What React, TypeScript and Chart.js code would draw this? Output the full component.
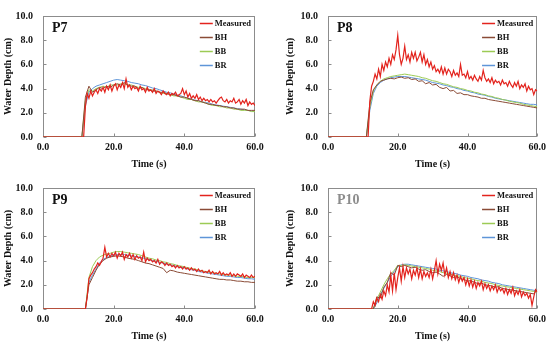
import React, { useEffect, useRef } from 'react';
import { Chart, registerables } from 'chart.js';
Chart.register(...registerables);

const FONT = '"Liberation Serif", "Times New Roman", serif';
const SERIES_NAMES = ['Measured', 'BH', 'BB', 'BR'];
const SERIES_COLORS = ['#e3231d', '#8a4b36', '#9ccb55', '#5e95d8'];
const SERIES_WIDTHS = [1.2, 1, 1, 1];
const X_TICKS = [0, 20, 40, 60];
const Y_TICKS = [0, 2, 4, 6, 8, 10];
const X_TITLE = 'Time (s)';
const Y_TITLE = 'Water Depth (cm)';

// Measured: t = 11.0, 11.5, ... 60.0  (before 11 s the depth is 0)
const MEAS_START = 11;
const MEAS_STEP = 0.5;
// Models: t = 11, 12, ... 60
const MODEL_START = 11;
const MODEL_STEP = 1;

const P7_MEASURED = [
  0, 0, 2.5, 3.6, 3.2, 3.8, 3.4, 3.7, 3.9, 3.6,
  4.0, 3.8, 4.1, 3.7, 4.2, 3.9, 4.3, 3.8, 4.2, 4.4,
  3.9, 4.3, 4.1, 4.5, 4.0, 4.8, 4.1, 4.3, 3.9, 4.2,
  4.0, 4.1, 3.8, 4.2, 3.9, 4.0, 3.7, 4.1, 3.8, 3.9,
  3.7, 4.0, 3.6, 3.8, 3.7, 3.5, 3.8, 3.6, 3.5, 3.7,
  3.4, 3.6, 3.5, 3.7, 3.4, 3.5, 3.6, 4.0, 3.5, 3.8,
  3.3, 3.6, 3.2, 3.4, 3.2, 3.5, 3.1, 3.3, 3.0, 3.2,
  3.0, 3.1, 2.9, 3.1, 2.9, 3.0, 2.8, 3.0, 3.2, 3.3,
  3.0, 2.9, 3.1, 2.8, 3.0, 2.9, 3.2, 2.8, 2.9, 3.1,
  2.7, 3.0, 2.8, 3.1, 2.6, 2.9, 2.7, 2.8, 2.6,
];
const P7_BH = [
  0, 3.3, 4.2, 3.7, 3.9, 4.1, 4.0, 4.2, 4.1, 4.3,
  4.4, 4.3, 4.5, 4.3, 4.2, 4.2, 4.0, 4.1, 3.9, 3.9,
  3.8, 3.8, 3.7, 3.7, 3.6, 3.5, 3.5, 3.4, 3.3, 3.3,
  3.2, 3.1, 3.0, 3.0, 2.9, 2.8, 2.7, 2.7, 2.6, 2.6,
  2.5, 2.5, 2.4, 2.4, 2.3, 2.3, 2.3, 2.2, 2.2, 2.2,
];
const P7_BB = [
  0, 3.0, 3.9, 3.8, 4.0, 4.1, 4.2, 4.1, 4.3, 4.3,
  4.3, 4.4, 4.4, 4.3, 4.3, 4.2, 4.1, 4.1, 4.0, 3.9,
  3.9, 3.8, 3.7, 3.6, 3.6, 3.5, 3.4, 3.4, 3.3, 3.2,
  3.1, 3.1, 3.0, 2.9, 2.9, 2.8, 2.7, 2.6, 2.6, 2.5,
  2.5, 2.4, 2.4, 2.3, 2.3, 2.2, 2.2, 2.2, 2.1, 2.1,
];
const P7_BR = [
  0, 2.6, 3.7, 4.0, 4.2, 4.3, 4.4, 4.5, 4.6, 4.7,
  4.75, 4.7, 4.65, 4.6, 4.5, 4.45, 4.4, 4.3, 4.25, 4.15,
  4.05, 4.0, 3.9, 3.8, 3.7, 3.65, 3.55, 3.45, 3.4, 3.3,
  3.2, 3.15, 3.05, 3.0, 2.9, 2.85, 2.8, 2.7, 2.65, 2.6,
  2.55, 2.5, 2.45, 2.4, 2.35, 2.3, 2.25, 2.2, 2.15, 2.1,
];

const P8_MEASURED = [
  0, 0, 3.0, 4.2, 4.6, 5.2, 4.8, 5.6, 5.0, 6.0,
  5.5, 6.2, 5.8, 6.5, 6.0, 6.8, 6.4, 7.2, 8.4, 6.8,
  6.0, 6.5, 7.5, 6.4, 6.8, 6.2, 7.0, 6.5, 7.0, 6.3,
  6.6, 7.0, 6.2, 6.8, 6.0, 6.4, 5.8, 6.2, 5.6, 5.9,
  5.4, 5.6, 5.3, 5.8, 5.2, 5.7, 5.2, 5.6, 5.4, 5.0,
  5.5, 5.1, 5.3, 5.0, 6.0, 5.1, 5.2, 4.9, 5.4, 4.8,
  5.0, 4.7, 5.1, 4.8, 4.6, 5.0, 4.7, 5.5, 4.9, 4.6,
  4.8, 4.5, 4.9, 4.4, 4.7, 4.5, 4.6, 4.3, 4.7, 4.4,
  4.5, 4.2, 4.6, 4.3, 4.1, 4.5, 4.2, 4.6, 4.0, 4.3,
  4.1, 4.4, 3.8, 4.2, 3.9, 4.0, 3.5, 3.9, 3.8,
];
const P8_BH = [
  0, 2.8, 3.9, 4.3, 4.6, 4.7, 4.8, 4.85, 4.8, 4.9,
  4.95, 4.85, 4.9, 4.75, 4.8, 4.6, 4.65, 4.4, 4.5, 4.3,
  4.35, 4.1, 4.0, 4.1, 3.8, 3.85, 3.6, 3.65, 3.5, 3.5,
  3.4, 3.35, 3.3, 3.2, 3.2, 3.1, 3.05, 3.0, 2.95, 2.9,
  2.85, 2.8, 2.75, 2.7, 2.65, 2.6, 2.55, 2.5, 2.45, 2.4,
];
const P8_BB = [
  0, 2.5, 3.8, 4.3, 4.6, 4.8, 4.9, 5.0, 5.05, 5.1,
  5.15, 5.2, 5.15, 5.1, 5.05, 5.0, 4.9, 4.85, 4.75, 4.65,
  4.6, 4.5, 4.4, 4.35, 4.25, 4.15, 4.1, 4.0, 3.95, 3.85,
  3.8, 3.7, 3.65, 3.55, 3.5, 3.4, 3.35, 3.25, 3.2, 3.1,
  3.05, 2.95, 2.9, 2.85, 2.8, 2.7, 2.65, 2.6, 2.55, 2.5,
];
const P8_BR = [
  0, 2.2, 3.6, 4.2, 4.5, 4.7, 4.8, 4.9, 4.95, 5.0,
  5.0, 5.0, 4.95, 4.9, 4.85, 4.8, 4.75, 4.7, 4.6, 4.5,
  4.45, 4.4, 4.3, 4.25, 4.15, 4.1, 4.0, 3.95, 3.85, 3.8,
  3.7, 3.65, 3.55, 3.5, 3.45, 3.35, 3.3, 3.2, 3.15, 3.1,
  3.05, 3.0, 2.95, 2.9, 2.85, 2.8, 2.75, 2.7, 2.7, 2.65,
];

const P9_MEASURED = [
  0, 0, 0, 1.0, 2.5, 2.8, 3.0, 3.3, 3.5, 3.8,
  3.6, 3.9, 4.2, 5.1, 4.3, 4.6, 4.3, 4.6, 4.4, 4.7,
  4.2, 4.6, 4.4, 4.7, 4.1, 4.5, 4.3, 4.6, 4.2, 4.5,
  4.1, 4.4, 4.2, 4.3, 4.0, 4.7, 3.9, 4.2, 4.0, 4.1,
  3.9, 4.0, 3.8, 4.1, 3.7, 3.9, 3.8, 3.6, 3.8, 3.6,
  3.7, 3.5, 3.6, 3.4, 3.6, 3.4, 3.5, 3.3, 3.5, 3.3,
  3.4, 3.2, 3.4, 3.2, 3.3, 3.1, 3.3, 3.1, 3.2, 3.0,
  3.1, 3.0, 3.2, 2.9, 3.1, 2.9, 3.0, 2.9, 3.1, 2.8,
  3.0, 2.8, 2.9, 2.8, 3.0, 2.7, 2.9, 2.7, 2.9, 2.8,
  2.7, 2.9, 2.6, 2.8, 2.7, 2.6, 2.8, 2.6, 2.7,
];
const P9_BH = [
  0, 0, 2.0, 2.6, 3.2, 3.7, 4.0, 4.2, 4.3, 4.35,
  4.4, 4.35, 4.3, 4.2, 4.15, 4.1, 4.0, 3.9, 3.8, 3.75,
  3.65, 3.55, 3.45, 3.35, 3.0, 3.2, 3.15, 3.05, 3.0, 2.95,
  2.9, 2.85, 2.8, 2.75, 2.7, 2.65, 2.6, 2.55, 2.5, 2.45,
  2.45, 2.4, 2.4, 2.35, 2.3, 2.3, 2.25, 2.25, 2.2, 2.2,
];
const P9_BB = [
  0, 0, 2.6, 3.5, 4.0, 4.3, 4.45, 4.55, 4.6, 4.7,
  4.75, 4.75, 4.7, 4.65, 4.6, 4.55, 4.5, 4.4, 4.3, 4.2,
  4.15, 4.05, 4.0, 3.9, 3.85, 3.75, 3.7, 3.6, 3.55, 3.5,
  3.4, 3.35, 3.3, 3.2, 3.15, 3.1, 3.05, 3.0, 2.95, 2.9,
  2.85, 2.8, 2.8, 2.75, 2.7, 2.7, 2.65, 2.6, 2.6, 2.6,
];
const P9_BR = [
  0, 0, 2.2, 2.8, 3.3, 3.8, 4.1, 4.25, 4.35, 4.45,
  4.5, 4.5, 4.5, 4.45, 4.4, 4.35, 4.3, 4.25, 4.15, 4.1,
  4.0, 3.95, 3.85, 3.8, 3.7, 3.65, 3.6, 3.5, 3.45, 3.4,
  3.3, 3.25, 3.2, 3.1, 3.05, 3.0, 2.95, 2.9, 2.85, 2.8,
  2.75, 2.7, 2.7, 2.65, 2.6, 2.6, 2.55, 2.5, 2.5, 2.45,
];

const P10_MEASURED = [
  0, 0, 0, 0, 0.6, 0.3, 0.9, 0.6, 1.2, 0.8,
  1.5, 1.1, 2.0, 1.4, 2.8, 1.5, 3.0, 1.6, 2.6, 3.4,
  2.3, 3.5, 2.6, 3.4, 2.9, 3.3, 2.5, 3.2, 2.8, 3.4,
  2.6, 3.3, 2.5, 3.1, 2.7, 3.0, 2.6, 3.3, 2.5, 3.2,
  4.0, 2.9, 3.7, 3.2, 3.8, 2.8, 3.4, 2.6, 3.1, 2.5,
  3.0, 2.4, 2.8, 2.2, 2.7, 2.3, 2.6, 2.0, 2.5, 1.9,
  2.4, 1.8, 2.3, 1.7, 2.2, 1.9, 2.3, 1.6, 2.1, 1.7,
  2.0, 1.5, 1.9, 1.6, 2.0, 1.4, 1.8, 1.5, 1.7, 1.3,
  1.7, 1.2, 1.6, 1.3, 1.8, 1.1, 1.5, 1.2, 1.6, 1.0,
  1.4, 1.1, 1.3, 0.9, 1.2, 0.3, 1.0, 1.6, 1.4,
];
const P10_BH = [
  0, 0, 0, 1.0, 0.9, 1.8, 2.2, 3.0, 2.8, 3.6,
  3.5, 3.6, 3.5, 3.4, 3.45, 3.3, 3.2, 3.25, 3.1, 3.0,
  3.05, 2.9, 2.7, 2.85, 2.75, 2.6, 2.7, 2.5, 2.45, 2.3,
  2.35, 2.2, 2.1, 2.15, 2.0, 1.95, 1.9, 1.8, 1.85, 1.7,
  1.65, 1.6, 1.55, 1.5, 1.45, 1.4, 1.35, 1.3, 1.25, 1.6,
];
const P10_BB = [
  0, 0, 0, 0.8, 1.4, 2.0, 2.5, 2.9, 3.2, 3.6,
  3.6, 3.65, 3.6, 3.55, 3.5, 3.45, 3.4, 3.35, 3.3, 3.2,
  3.15, 3.1, 3.0, 2.95, 2.9, 2.8, 2.75, 2.7, 2.6, 2.55,
  2.5, 2.4, 2.35, 2.3, 2.2, 2.15, 2.1, 2.0, 1.95, 1.9,
  1.85, 1.8, 1.75, 1.7, 1.65, 1.6, 1.55, 1.5, 1.45, 1.4,
];
const P10_BR = [
  0, 0, 0, 0.5, 1.2, 1.7, 2.2, 2.7, 3.1, 3.5,
  3.65, 3.7, 3.7, 3.65, 3.6, 3.55, 3.5, 3.45, 3.4, 3.35,
  3.3, 3.2, 3.15, 3.1, 3.0, 2.95, 2.9, 2.8, 2.75, 2.7,
  2.6, 2.55, 2.5, 2.4, 2.35, 2.3, 2.2, 2.15, 2.1, 2.0,
  1.95, 1.9, 1.85, 1.8, 1.75, 1.7, 1.65, 1.6, 1.55, 1.5,
];

type Panel = {
  name: string;
  nameColor: string;
  left: number;
  top: number;
  w: number;
  h: number;
  axisW: number;
  padR: number;
  padT: number;
  xAxisH: number;
  yTitlePad: number;
  xTitlePad: number;
  series: number[][];
};

const PANELS: Panel[] = [
  { name: 'P7', nameColor: '#111', left: 0, top: 0, w: 275, h: 172, axisW: 43, padR: 20, padT: 7, xAxisH: 35, yTitlePad: 2, xTitlePad: 2, series: [P7_MEASURED, P7_BH, P7_BB, P7_BR] },
  { name: 'P8', nameColor: '#111', left: 275, top: 0, w: 275, h: 172, axisW: 53, padR: 10, padT: 6, xAxisH: 35, yTitlePad: 9, xTitlePad: 2, series: [P8_MEASURED, P8_BH, P8_BB, P8_BR] },
  { name: 'P9', nameColor: '#111', left: 0, top: 172, w: 275, h: 171, axisW: 43, padR: 20, padT: 7, xAxisH: 34, yTitlePad: 2, xTitlePad: 1, series: [P9_MEASURED, P9_BH, P9_BB, P9_BR] },
  { name: 'P10', nameColor: '#8c8c8c', left: 275, top: 172, w: 275, h: 171, axisW: 53, padR: 10, padT: 7, xAxisH: 34, yTitlePad: 9, xTitlePad: 1, series: [P10_MEASURED, P10_BH, P10_BB, P10_BR] },
];

function toPoints(values: number[], start: number, step: number) {
  const pts = [{ x: 0, y: 0 }];
  values.forEach((v, i) => pts.push({ x: start + i * step, y: v }));
  return pts;
}

const framePlugin = {
  id: 'framePlugin',
  beforeDatasetsDraw(chart: any) {
    const { ctx, chartArea: a, scales } = chart;
    ctx.save();
    ctx.strokeStyle = '#8c8c8c';
    ctx.lineWidth = 1;
    const l = Math.round(a.left) + 0.5;
    const t = Math.round(a.top) + 0.5;
    const r = Math.round(a.right) - 0.5;
    const b = Math.round(a.bottom) - 0.5;
    ctx.strokeRect(l, t, r - l, b - t);
    ctx.beginPath();
    for (const v of X_TICKS) {
      const px = Math.round(scales.x.getPixelForValue(v)) + 0.5;
      ctx.moveTo(px, b);
      ctx.lineTo(px, b - 3);
    }
    for (const v of Y_TICKS) {
      const py = Math.round(scales.y.getPixelForValue(v)) + 0.5;
      ctx.moveTo(l, py);
      ctx.lineTo(l + 3, py);
    }
    ctx.stroke();
    ctx.restore();
  },
  afterDraw(chart: any, _args: any, opts: any) {
    const { ctx, chartArea: a } = chart;
    ctx.save();
    ctx.font = `bold 14px ${FONT}`;
    ctx.fillStyle = opts.nameColor;
    ctx.textBaseline = 'middle';
    ctx.textAlign = 'left';
    ctx.fillText(opts.name, a.left + 9, a.top + 12.5);

    ctx.font = `bold 8.5px ${FONT}`;
    const labels: string[] = chart.data.datasets.map((d: any) => d.label);
    const maxW = Math.max(...labels.map((s) => ctx.measureText(s).width));
    const tx = a.right - 4 - maxW;
    chart.data.datasets.forEach((d: any, i: number) => {
      const yy = Math.round(a.top + 7 + 14 * i);
      ctx.strokeStyle = d.borderColor;
      ctx.lineWidth = 1.5;
      ctx.beginPath();
      ctx.moveTo(tx - 15, yy + 0.5);
      ctx.lineTo(tx - 2, yy + 0.5);
      ctx.stroke();
      ctx.fillStyle = '#111';
      ctx.fillText(d.label, tx, yy + 0.5);
    });
    ctx.restore();
  },
};

function PanelChart({ p }: { p: Panel }) {
  const ref = useRef<HTMLCanvasElement>(null);
  useEffect(() => {
    if (!ref.current) return;
    const tickFont = { family: FONT, size: 10, weight: 'bold' as const };
    const datasets = p.series.map((vals, i) => ({
      label: SERIES_NAMES[i],
      data: i === 0 ? toPoints(vals, MEAS_START, MEAS_STEP) : toPoints(vals, MODEL_START, MODEL_STEP),
      borderColor: SERIES_COLORS[i],
      backgroundColor: SERIES_COLORS[i],
      borderWidth: SERIES_WIDTHS[i],
      pointRadius: 0,
      tension: 0,
      fill: false,
    }));
    const chart = new Chart(ref.current, {
      type: 'line',
      data: { datasets },
      options: {
        responsive: false,
        animation: false,
        devicePixelRatio: 1,
        layout: { padding: { left: 0, right: p.padR, top: p.padT, bottom: 0 } },
        plugins: {
          legend: { display: false },
          tooltip: { enabled: false },
          framePlugin: { name: p.name, nameColor: p.nameColor },
        } as any,
        scales: {
          x: {
            type: 'linear',
            min: X_TICKS[0],
            max: X_TICKS[X_TICKS.length - 1],
            grid: { display: false, drawTicks: false },
            border: { display: false },
            afterBuildTicks: (s: any) => { s.ticks = X_TICKS.map((v) => ({ value: v })); },
            ticks: {
              padding: 4,
              color: '#111',
              font: tickFont,
              maxRotation: 0,
              callback: (v: any) => Number(v).toFixed(1),
            },
            title: {
              display: true,
              text: X_TITLE,
              color: '#111',
              font: tickFont,
              padding: { top: 0, bottom: p.xTitlePad },
            },
            afterFit: (s: any) => { s.height = p.xAxisH; },
          },
          y: {
            type: 'linear',
            min: Y_TICKS[0],
            max: Y_TICKS[Y_TICKS.length - 1],
            grid: { display: false, drawTicks: false },
            border: { display: false },
            afterBuildTicks: (s: any) => { s.ticks = Y_TICKS.map((v) => ({ value: v })); },
            ticks: {
              padding: 10,
              color: '#111',
              font: tickFont,
              callback: (v: any) => Number(v).toFixed(1),
            },
            title: {
              display: true,
              text: Y_TITLE,
              color: '#111',
              font: tickFont,
              padding: { top: p.yTitlePad, bottom: 0 },
            },
            afterFit: (s: any) => { s.width = p.axisW; },
          },
        },
      },
      plugins: [framePlugin],
    } as any);
    return () => chart.destroy();
  }, [p]);
  return (
    <div style={{ position: 'absolute', left: p.left, top: p.top, width: p.w, height: p.h }}>
      <canvas ref={ref} width={p.w} height={p.h} style={{ display: 'block', width: p.w, height: p.h }} />
    </div>
  );
}

export default function App() {
  return (
    <div style={{ position: 'fixed', left: 0, top: 0, width: 550, height: 343, background: '#fff', overflow: 'hidden' }}>
      {PANELS.map((p) => (
        <PanelChart key={p.name} p={p} />
      ))}
    </div>
  );
}
